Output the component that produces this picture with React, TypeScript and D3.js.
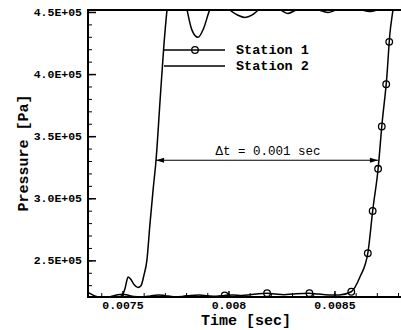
import React, { useLayoutEffect, useRef, useState } from "react";
import * as d3 from "d3";

const station1Time = [0.007335, 0.00735, 0.00737, 0.0074, 0.00744, 0.00747, 0.007495, 0.00752, 0.00755, 0.00759, 0.00763, 0.007665, 0.0077, 0.00774, 0.00778, 0.00782, 0.00786, 0.0079, 0.00794, 0.00798, 0.00802, 0.00806, 0.0081, 0.00814, 0.00818, 0.00822, 0.00826, 0.0083, 0.008377, 0.00842, 0.00847, 0.00852, 0.008575, 0.008618, 0.008656, 0.008679, 0.008703, 0.008722, 0.008745, 0.008759, 0.008774, 0.00879, 0.00881];
const station1Pressure = [224500, 223200, 221500, 220800, 221200, 222500, 223200, 222600, 221300, 221000, 221800, 222600, 222000, 221200, 221400, 222200, 222500, 221900, 221500, 222200, 222600, 222200, 222800, 223600, 224000, 223300, 222800, 223300, 224000, 223300, 222600, 222500, 224900, 237000, 257100, 291600, 323000, 360000, 398500, 432300, 452400, 475000, 495000];

const station2Time = [0.007335, 0.00737, 0.00741, 0.00745, 0.00748, 0.007497, 0.00751, 0.007524, 0.007535, 0.007552, 0.007571, 0.007585, 0.007599, 0.007613, 0.007627, 0.007642, 0.007656, 0.007675, 0.007693, 0.007708, 0.00773, 0.007755, 0.00778, 0.007802, 0.007825, 0.007854, 0.00788, 0.00791, 0.00795, 0.008, 0.00804, 0.008075, 0.00811, 0.008142, 0.00819, 0.00824, 0.008278, 0.00832, 0.00837, 0.00842, 0.008467, 0.00851, 0.00857, 0.00862, 0.008665, 0.00871, 0.00876, 0.00881];
const station2Pressure = [220600, 220400, 220500, 220700, 221000, 222200, 228000, 237000, 235500, 231000, 228600, 230000, 238500, 250600, 279000, 307000, 331000, 379000, 423500, 452400, 480000, 488000, 472000, 452400, 436000, 430000, 437000, 452400, 460000, 452400, 448000, 446000, 448000, 452400, 456500, 452400, 449200, 452400, 455000, 452400, 450000, 452400, 454500, 452400, 450800, 452400, 454000, 453500];

const xMajorTicks = [0.0075, 0.008, 0.0085];
const xTickLabels = ["0.0075", "0.008", "0.0085"];
const yMajorTicks = [250000, 300000, 350000, 400000, 450000];
const yTickLabels = ["2.5E+05", "3.0E+05", "3.5E+05", "4.0E+05", "4.5E+05"];
const seriesNames = ["Station 1", "Station 2"];

const deltaStart = 0.007656;
const deltaEnd = 0.008703;
const deltaPressure = 331000;
const deltaLabel = "\u0394t = 0.001 sec";
const markerStartTime = 0.00798;

const W = 401, H = 330;
const L = 88, R = 400, T = 10, B = 297;
const FONT = "'Liberation Mono', 'Courier New', monospace";
const MARKER_SPACING = 42.5;

export default function App() {
  const x = d3.scaleLinear().domain([0.007335, 0.008807]).range([L, R]);
  const y = d3.scaleLinear().domain([220900, 452000]).range([B, T]);

  const line = d3
    .line<[number, number]>()
    .x((d) => x(d[0]))
    .y((d) => y(d[1]))
    .curve(d3.curveMonotoneX);

  const s1 = station1Time.map((t, i) => [t, station1Pressure[i]] as [number, number]);
  const s2 = station2Time.map((t, i) => [t, station2Pressure[i]] as [number, number]);
  const p1 = line(s1) || "";
  const p2 = line(s2) || "";

  const pathRef = useRef<SVGPathElement>(null);
  const [markers, setMarkers] = useState<{ x: number; y: number }[]>([]);

  useLayoutEffect(() => {
    const el = pathRef.current;
    if (!el) return;
    const total = el.getTotalLength();
    const targetX = x(markerStartTime);
    let lo = 0, hi = total;
    for (let k = 0; k < 50; k++) {
      const mid = (lo + hi) / 2;
      if (el.getPointAtLength(mid).x < targetX) lo = mid;
      else hi = mid;
    }
    const pts: { x: number; y: number }[] = [];
    for (let l = lo; l <= total; l += MARKER_SPACING) {
      const p = el.getPointAtLength(l);
      if (p.y < T - 5) break;
      pts.push({ x: p.x, y: p.y });
    }
    setMarkers(pts);
  }, []);

  const xMinor = d3.range(0.0074, 0.00881, 0.0001);
  const yMinor = d3.range(230000, 452000, 10000);

  const xa = x(deltaStart), xb = x(deltaEnd), ya = y(deltaPressure);
  const ah = 8, aw = 2.6;

  return (
    <svg width={W} height={H} style={{ position: "absolute", left: 0, top: 0, background: "#fff" }} fontFamily={FONT}>
      <defs>
        <clipPath id="plotclip">
          <rect x={L} y={T} width={R + 5 - L} height={B - T} />
        </clipPath>
      </defs>
      <rect x={0} y={0} width={W} height={H} fill="#fff" />

      {/* ticks */}
      {yMinor.map((v, i) => (
        <line key={"ym" + i} x1={L} x2={L + 4} y1={y(v)} y2={y(v)} stroke="#000" strokeWidth={1} />
      ))}
      {yMajorTicks.map((v, i) => (
        <g key={"yM" + i}>
          <line x1={L} x2={L + 8} y1={y(v)} y2={y(v)} stroke="#000" strokeWidth={1.5} />
          <text x={82} y={y(v)} textAnchor="end" dominantBaseline="middle" fontSize={11.5} fontWeight="bold">
            {yTickLabels[i]}
          </text>
        </g>
      ))}
      {xMinor.map((v, i) => (
        <line key={"xm" + i} x1={x(v)} x2={x(v)} y1={B} y2={B - 4} stroke="#000" strokeWidth={1} />
      ))}
      {xMajorTicks.map((v, i) => (
        <g key={"xM" + i}>
          <line x1={x(v)} x2={x(v)} y1={B} y2={B - 6} stroke="#000" strokeWidth={1.5} />
          <text x={x(v)} y={306} textAnchor="middle" dominantBaseline="middle" fontSize={11.5} fontWeight="bold">
            {xTickLabels[i]}
          </text>
        </g>
      ))}

      {/* curves */}
      <g clipPath="url(#plotclip)">
        <path d={p2} fill="none" stroke="#000" strokeWidth={1.5} />
        <path ref={pathRef} d={p1} fill="none" stroke="#000" strokeWidth={1.5} />
        {markers.map((m, i) => (
          <circle key={i} cx={m.x} cy={m.y} r={3.3} fill="none" stroke="#000" strokeWidth={1.3} />
        ))}
      </g>

      {/* frame */}
      <path d={`M${R + 5},${T} H${L} V${B} H${R + 5}`} fill="none" stroke="#000" strokeWidth={2} />

      {/* delta t annotation */}
      <line x1={xa} x2={xb} y1={ya} y2={ya} stroke="#000" strokeWidth={1.2} />
      <path d={`M${xa},${ya} L${xa + ah},${ya - aw} L${xa + ah},${ya + aw} Z`} fill="#000" />
      <path d={`M${xb},${ya} L${xb - ah},${ya - aw} L${xb - ah},${ya + aw} Z`} fill="#000" />
      <text x={(xa + xb) / 2 + 1} y={ya - 9} textAnchor="middle" dominantBaseline="middle" fontSize={12.5}>
        {deltaLabel}
      </text>

      {/* legend */}
      {seriesNames.map((n, i) => {
        const ly = 50 + i * 16;
        return (
          <g key={n}>
            <line x1={164} x2={225} y1={ly} y2={ly} stroke="#000" strokeWidth={1.5} />
            {i === 0 && <circle cx={195} cy={ly} r={3.3} fill="none" stroke="#000" strokeWidth={1.3} />}
            <text x={236} y={ly} dominantBaseline="middle" fontSize={13.5} fontWeight="bold">
              {n}
            </text>
          </g>
        );
      })}

      {/* axis titles */}
      <text x={246} y={321} textAnchor="middle" dominantBaseline="middle" fontSize={15} fontWeight="bold">
        Time [sec]
      </text>
      <text
        transform={`translate(24,153) rotate(-90)`}
        textAnchor="middle"
        dominantBaseline="middle"
        fontSize={15}
        fontWeight="bold"
      >
        Pressure [Pa]
      </text>
    </svg>
  );
}
